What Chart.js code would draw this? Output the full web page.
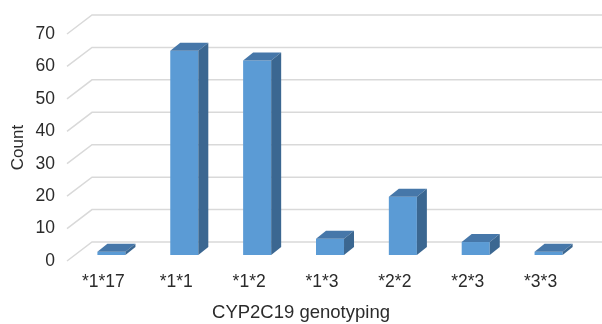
<!DOCTYPE html>
<html>
<head>
<meta charset="utf-8">
<script src="https://cdn.jsdelivr.net/npm/chart.js@4"></script>
<style>
  html, body { margin: 0; padding: 0; background: #ffffff; }
  #wrap { position: relative; width: 602px; height: 324px; }
</style>
</head>
<body>
<div id="wrap"><canvas id="chart" width="602" height="324"></canvas></div>
<script>
// Genotype categories and patient counts
const categories = ['*1*17', '*1*1', '*1*2', '*1*3', '*2*2', '*2*3', '*3*3'];
const counts = [1, 63, 60, 5, 18, 4, 1];
const yTickValues = [0, 10, 20, 30, 40, 50, 60, 70];

const xTitle = 'CYP2C19 genotyping';
const yTitle = 'Count';

const FONT = '"Liberation Sans", Arial, Helvetica, sans-serif';
const TEXT = '#2b2b2b';
const GRID = '#d9d9d9';
const FRONT = '#5b9bd5';
const TOP = '#4677a9';
const SIDE = '#3b6791';

// Perspective offsets: wall depth, bar front plane, bar depth
const WALL = { dx: 25, dy: -19 };
const BAR_SHIFT = { dx: 8, dy: -6 };
const BAR_DEPTH = { dx: 10, dy: -8 };

const depthGrid = {
  id: 'depthGrid',
  beforeDatasetsDraw(chart) {
    const { ctx, chartArea } = chart;
    const ys = chart.scales.y;
    ctx.save();
    ctx.strokeStyle = GRID;
    ctx.lineWidth = 1.5;
    yTickValues.forEach(v => {
      const y = ys.getPixelForValue(v);
      ctx.beginPath();
      ctx.moveTo(chartArea.left, y);
      ctx.lineTo(chartArea.left + WALL.dx, y + WALL.dy);
      ctx.lineTo(chartArea.right + WALL.dx, y + WALL.dy);
      ctx.stroke();
    });
    ctx.restore();
  },
  beforeDatasetDraw(chart) {
    chart.ctx.save();
    chart.ctx.translate(BAR_SHIFT.dx, BAR_SHIFT.dy);
  },
  afterDatasetDraw(chart) {
    chart.ctx.restore();
  },
  afterDatasetsDraw(chart) {
    const ctx = chart.ctx;
    const meta = chart.getDatasetMeta(0);
    ctx.save();
    meta.data.forEach(el => {
      const p = el.getProps(['x', 'y', 'base', 'width'], true);
      const l = p.x - p.width / 2 + BAR_SHIFT.dx;
      const r = p.x + p.width / 2 + BAR_SHIFT.dx;
      const t = Math.min(p.y, p.base) + BAR_SHIFT.dy;
      const b = Math.max(p.y, p.base) + BAR_SHIFT.dy;
      // top face
      ctx.fillStyle = TOP;
      ctx.beginPath();
      ctx.moveTo(l, t);
      ctx.lineTo(r, t);
      ctx.lineTo(r + BAR_DEPTH.dx, t + BAR_DEPTH.dy);
      ctx.lineTo(l + BAR_DEPTH.dx, t + BAR_DEPTH.dy);
      ctx.closePath();
      ctx.fill();
      // side face
      ctx.fillStyle = SIDE;
      ctx.beginPath();
      ctx.moveTo(r, t);
      ctx.lineTo(r + BAR_DEPTH.dx, t + BAR_DEPTH.dy);
      ctx.lineTo(r + BAR_DEPTH.dx, b + BAR_DEPTH.dy);
      ctx.lineTo(r, b);
      ctx.closePath();
      ctx.fill();
    });
    ctx.restore();
  },
  afterDraw(chart) {
    // x-axis title centred on the full chart width
    const ctx = chart.ctx;
    ctx.save();
    ctx.fillStyle = TEXT;
    ctx.font = '18.5px ' + FONT;
    ctx.textAlign = 'center';
    ctx.textBaseline = 'middle';
    ctx.fillText(xTitle, chart.width / 2, 313);
    ctx.restore();
  }
};

new Chart(document.getElementById('chart'), {
  type: 'bar',
  data: {
    labels: categories,
    datasets: [{
      data: counts,
      backgroundColor: FRONT,
      borderWidth: 0,
      categoryPercentage: 1,
      barPercentage: 0.385,
      clip: false
    }]
  },
  options: {
    responsive: false,
    animation: false,
    devicePixelRatio: 1,
    layout: { padding: { top: 34, right: 25, left: 0, bottom: 0 } },
    plugins: { legend: { display: false }, tooltip: { enabled: false } },
    scales: {
      x: {
        grid: { display: false, drawTicks: false },
        border: { display: false },
        ticks: { color: TEXT, font: { family: FONT, size: 17.5 }, padding: 11, maxRotation: 0 },
        afterFit(scale) { scale.height = 63; }
      },
      y: {
        min: 0,
        max: 70,
        grid: { display: false, drawTicks: false },
        border: { display: false },
        ticks: { stepSize: 10, color: TEXT, font: { family: FONT, size: 17.5 }, padding: 12 },
        title: { display: true, text: yTitle, color: TEXT, font: { family: FONT, size: 17 }, padding: { top: 8, bottom: 0 } },
        afterFit(scale) { scale.width = 67; }
      }
    }
  },
  plugins: [depthGrid]
});
</script>
</body>
</html>
